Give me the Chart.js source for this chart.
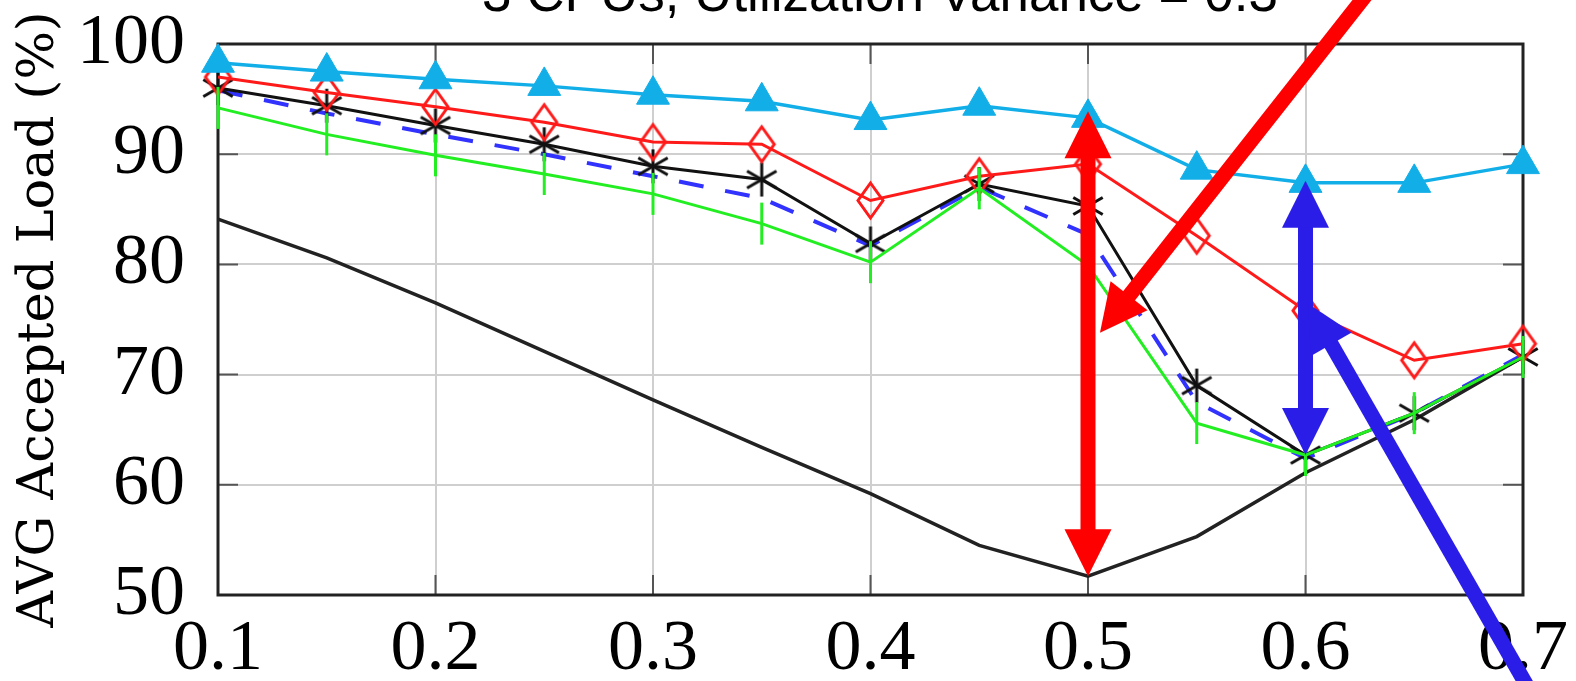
<!DOCTYPE html>
<html>
<head>
<meta charset="utf-8">
<script src="https://cdn.jsdelivr.net/npm/chart.js@4.4.0/dist/chart.umd.min.js"></script>
<style>
  html, body { margin: 0; padding: 0; background: #fff; overflow: hidden; }
  #wrap { position: relative; width: 1576px; height: 681px; overflow: hidden; }
  #chart { position: absolute; left: 0; top: 0; }
  #title {
    position: absolute; left: 0; top: -34px; width: 1760px;
    text-align: center; white-space: nowrap; color: #000;
    font: 53px "Liberation Sans", Arial, sans-serif; line-height: 53px;
  }
</style>
</head>
<body>
<div id="wrap">
  <canvas id="chart" width="1576" height="681"></canvas>
  <div id="title">3 CPUs, Utilization Variance = 0.3</div>
</div>
<script>
// valores
const xValues = [0.1, 0.15, 0.2, 0.25, 0.3, 0.35, 0.4, 0.45, 0.5, 0.55, 0.6, 0.65, 0.7];
const xTicks = [0.1, 0.2, 0.3, 0.4, 0.5, 0.6, 0.7];
const yTicks = [50, 60, 70, 80, 90, 100];

const cyanTriangles = [98.3, 97.5, 96.8, 96.2, 95.4, 94.8, 93.1, 94.4, 93.3, 88.6, 87.4, 87.4, 89.1];
const redDiamonds = [97.0, 95.6, 94.3, 92.9, 91.1, 90.9, 85.8, 88.0, 89.1, 82.6, 75.8, 71.3, 72.8];
const greenBars = [94.2, 91.8, 89.9, 88.2, 86.4, 83.7, 80.2, 86.9, 79.9, 65.6, 62.7, 66.5, 71.6];
const blackStars = [96.0, 94.4, 92.6, 90.9, 88.9, 87.7, 81.9, 87.3, 85.3, 69.0, 62.7, 66.5, 71.6];
const blueDashed = [95.8, 93.7, 91.8, 90.0, 88.0, 86.0, 81.7, 87.0, 82.7, 67.5, 62.4, 66.5, 71.8];
const blackSolid = [84.1, 80.6, 76.5, 72.1, 67.7, 63.4, 59.2, 54.5, 51.7, 55.3, 61.1, 65.9, 71.6];

// flechas: [x, desde, hasta] y [[x0, y0], [punta x, punta y]]
const redSpan = [0.5, 51.7, 93.9];
const blueSpan = [0.6, 62.7, 87.6];
const redPointer = [[0.632, 105.5], [0.5055, 73.8]];
const bluePointer = [[0.7055, 40.5], [0.6011, 76.45]];

function pts(values) {
    return values.map((v, i) => ({ x: xValues[i], y: v }));
}

// marcadores propios
function diamondMarker(color) {
    const c = document.createElement("canvas");
    c.width = 31; c.height = 41;
    const g = c.getContext("2d");
    g.strokeStyle = color; g.lineWidth = 3;
    g.beginPath();
    g.moveTo(15.5, 3); g.lineTo(28, 20.5); g.lineTo(15.5, 38); g.lineTo(3, 20.5);
    g.closePath(); g.stroke();
    return c;
}

function asteriskMarker(color) {
    const c = document.createElement("canvas");
    c.width = 40; c.height = 40;
    const g = c.getContext("2d");
    g.strokeStyle = color; g.lineWidth = 3;
    [90, 30, 150].forEach((deg) => {
        const a = deg * Math.PI / 180;
        g.beginPath();
        g.moveTo(20 - Math.cos(a) * 17, 20 - Math.sin(a) * 17);
        g.lineTo(20 + Math.cos(a) * 17, 20 + Math.sin(a) * 17);
        g.stroke();
    });
    return c;
}

function drawArrow(ctx, x1, y1, x2, y2, color, both) {
    const head = 47, half = 23.5;
    const len = Math.hypot(x2 - x1, y2 - y1);
    const ux = (x2 - x1) / len, uy = (y2 - y1) / len;
    ctx.save();
    ctx.fillStyle = color;
    ctx.strokeStyle = color;
    ctx.lineWidth = 15;
    ctx.lineCap = "butt";
    const sx = both ? x1 + ux * (head - 2) : x1;
    const sy = both ? y1 + uy * (head - 2) : y1;
    ctx.beginPath();
    ctx.moveTo(sx, sy);
    ctx.lineTo(x2 - ux * (head - 2), y2 - uy * (head - 2));
    ctx.stroke();
    const tip = (tx, ty, vx, vy) => {
        const bx = tx - vx * head, by = ty - vy * head;
        ctx.beginPath();
        ctx.moveTo(tx, ty);
        ctx.lineTo(bx - vy * half, by + vx * half);
        ctx.lineTo(bx + vy * half, by - vx * half);
        ctx.closePath();
        ctx.fill();
    };
    tip(x2, y2, ux, uy);
    if (both) tip(x1, y1, -ux, -uy);
    ctx.restore();
}

const frameAndArrows = {
    id: "frameAndArrows",
    beforeDatasetsDraw(chart) {
        const { ctx, chartArea: a, scales } = chart;
        const x = scales.x, y = scales.y;
        ctx.save();
        ctx.strokeStyle = "#555";
        ctx.lineWidth = 2;
        yTicks.slice(1, -1).forEach((v) => {
            const py = y.getPixelForValue(v);
            ctx.beginPath();
            ctx.moveTo(a.left, py); ctx.lineTo(a.left + 20, py);
            ctx.moveTo(a.right - 20, py); ctx.lineTo(a.right, py);
            ctx.stroke();
        });
        xTicks.slice(1, -1).forEach((v) => {
            const px = x.getPixelForValue(v);
            ctx.beginPath();
            ctx.moveTo(px, a.bottom); ctx.lineTo(px, a.bottom - 20);
            ctx.moveTo(px, a.top); ctx.lineTo(px, a.top + 20);
            ctx.stroke();
        });
        ctx.strokeStyle = "#222";
        ctx.lineWidth = 3;
        ctx.strokeRect(a.left, a.top, a.right - a.left, a.bottom - a.top);
        ctx.restore();
    },
    afterDraw(chart) {
        const { ctx, scales } = chart;
        const x = scales.x, y = scales.y;
        const span = (s, color) => drawArrow(ctx,
            x.getPixelForValue(s[0]), y.getPixelForValue(s[1]),
            x.getPixelForValue(s[0]), y.getPixelForValue(s[2]), color, true);
        const pointer = (p, color) => drawArrow(ctx,
            x.getPixelForValue(p[0][0]), y.getPixelForValue(p[0][1]),
            x.getPixelForValue(p[1][0]), y.getPixelForValue(p[1][1]), color, false);
        span(redSpan, "#ff0000");
        pointer(redPointer, "#ff0000");
        span(blueSpan, "#2a1de8");
        pointer(bluePointer, "#2a1de8");
    },
};

const serifTicks = { family: "Liberation Serif", size: 72, weight: "normal" };

new Chart(document.getElementById("chart"), {
    type: "line",
    data: {
        datasets: [
            {
                data: pts(cyanTriangles),
                borderColor: "#12aee8",
                borderWidth: 3.5,
                pointStyle: "triangle",
                pointRadius: 19,
                pointBackgroundColor: "#12aee8",
                pointBorderColor: "#12aee8",
                pointBorderWidth: 1,
                clip: false,
            },
            {
                data: pts(greenBars),
                borderColor: "#22ee22",
                borderWidth: 3,
                pointStyle: "line",
                pointRotation: 90,
                pointRadius: 21,
                pointBorderColor: "#22ee22",
                pointBorderWidth: 3,
                clip: false,
            },
            {
                data: pts(redDiamonds),
                borderColor: "#ff1a1a",
                borderWidth: 3,
                pointStyle: diamondMarker("#ff1a1a"),
                clip: false,
            },
            {
                data: pts(blackStars),
                borderColor: "#111111",
                borderWidth: 3,
                pointStyle: asteriskMarker("#111111"),
                clip: false,
            },
            {
                data: pts(blueDashed),
                borderColor: "#3232ff",
                borderWidth: 4,
                borderDash: [25, 22],
                pointRadius: 0,
                clip: false,
            },
            {
                data: pts(blackSolid),
                borderColor: "#222222",
                borderWidth: 3.5,
                pointRadius: 0,
                clip: false,
            },
        ],
    },
    options: {
        responsive: false,
        animation: false,
        events: [],
        layout: { padding: { left: 9, right: 53, top: 44, bottom: 0 } },
        elements: { line: { tension: 0 } },
        plugins: {
            legend: { display: false },
            tooltip: { enabled: false },
        },
        scales: {
            x: {
                type: "linear",
                min: 0.1,
                max: 0.7,
                afterBuildTicks: (s) => { s.ticks = xTicks.map((v) => ({ value: v })); },
                afterFit: (s) => {
                    s.height = 86;
                    s.paddingLeft = 0; s.paddingRight = 0;
                    s.paddingTop = 0; s.paddingBottom = 0;
                },
                grid: { color: "#cfcfcf", lineWidth: 2, drawTicks: false },
                border: { display: false },
                ticks: {
                    callback: (v) => Number(v).toFixed(1),
                    font: serifTicks,
                    color: "#000",
                    padding: 12,
                    maxRotation: 0,
                    autoSkip: false,
                },
            },
            y: {
                min: 50,
                max: 100,
                afterBuildTicks: (s) => { s.ticks = yTicks.map((v) => ({ value: v })); },
                afterFit: (s) => {
                    s.width = 209;
                    s.paddingLeft = 0; s.paddingRight = 0;
                    s.paddingTop = 0; s.paddingBottom = 0;
                },
                grid: { color: "#cfcfcf", lineWidth: 2, drawTicks: false },
                border: { display: false },
                ticks: {
                    font: serifTicks,
                    color: "#000",
                    padding: 33,
                },
                title: {
                    display: true,
                    text: "AVG Accepted Load (%)",
                    font: { family: "DejaVu Serif", size: 51, weight: "normal" },
                    color: "#000",
                    padding: 0,
                },
            },
        },
    },
    plugins: [frameAndArrows],
});
</script>
</body>
</html>
